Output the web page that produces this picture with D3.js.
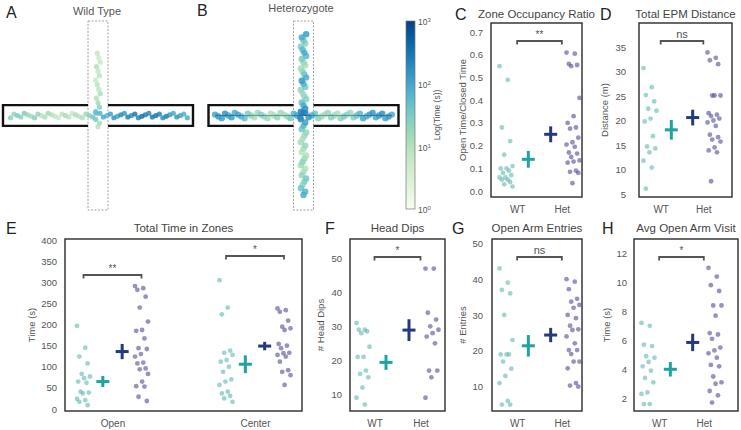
<!DOCTYPE html>
<html>
<head>
<meta charset="utf-8">
<script src="https://cdn.jsdelivr.net/npm/d3@7"></script>
<style>
  body { margin: 0; background: #fff; }
  svg { display: block; font-family: "Liberation Sans", Arial, sans-serif; }
</style>
</head>
<body>
<svg id="fig" width="741" height="430"></svg>
<script>
// ---------- data ----------
const groups = ["WT", "Het"];

// occupancy along the maze arms, seconds spent per spot (centre -> arm end)
const wtWestArm  = [45, 35, 25, 15, 10, 8, 12, 6, 9, 14, 8, 5, 7, 10, 16, 12, 8, 20, 25, 15, 18, 28, 22, 30, 20, 25];
const wtEastArm  = [70, 90, 60, 110, 140, 100, 180, 120, 220, 160, 280, 200, 320, 240, 180, 260, 300, 200, 160, 240, 120, 90, 140, 100, 70, 80];
const wtNorthArm = [50, 25, 14, 10, 12, 8, 9, 6, 8, 7, 10, 6, 5, 7];
const wtSouthArm = [35, 14, 9];
const hetWestArm  = [220, 160, 100, 60, 30, 18, 12, 15, 20, 12, 10, 14, 18, 25, 15, 12, 20, 30, 45, 70, 100, 80, 120, 90, 150, 110, 130, 100];
const hetEastArm  = [200, 140, 80, 40, 22, 15, 12, 18, 25, 15, 12, 20, 30, 22, 15, 25, 40, 60, 90, 70, 110, 140, 90, 120, 150, 100, 130, 80];
const hetNorthArm = [250, 160, 90, 45, 25, 18, 14, 20, 35, 70, 130, 80, 40, 20, 14, 12, 18, 30, 55, 90, 60, 30, 20, 40, 90, 120];
const hetSouthArm = [180, 110, 60, 35, 20, 14, 10, 13, 18, 12, 9, 11, 15, 22, 14, 10, 12, 20, 35, 25, 18, 40, 70, 90];
const heatTicks = [1, 10, 100, 1000];

// C  zone occupancy ratio
const ratioWT  = [0.55, 0.49, 0.28, 0.22, 0.16, 0.11, 0.10, 0.10, 0.09, 0.08, 0.07, 0.06, 0.06, 0.05, 0.05, 0.04, 0.03, 0.02];
const ratioHet = [0.61, 0.605, 0.56, 0.555, 0.55, 0.41, 0.33, 0.30, 0.28, 0.275, 0.235, 0.215, 0.205, 0.195, 0.17, 0.165, 0.15, 0.135, 0.13, 0.125, 0.09, 0.085, 0.08, 0.035];
const ratioMean = [0.14, 0.25];
const ratioSem  = [0.037, 0.035];
const ratioTicks = [0, 0.1, 0.2, 0.3, 0.4, 0.5, 0.6, 0.7];

// D  total distance (m)
const distWT  = [30.7, 26.8, 25.2, 23.9, 22.4, 22.0, 20.4, 19.8, 16.8, 14.7, 14.3, 13.5, 11.8, 10.4, 6.1];
const distHet = [33.9, 32.8, 32.3, 31.5, 25.1, 25.1, 25.1, 21.5, 21.2, 20.9, 20.4, 20.0, 19.6, 18.9, 17.1, 16.6, 16.1, 15.7, 14.5, 13.9, 13.5, 7.6];
const distMean = [18.1, 20.6];
const distSem  = [2.0, 1.6];
const distTicks = [5, 10, 15, 20, 25, 30, 35];

// E  total time in zones (s)
const zoneCats = ["Open", "Center"];
const openWT    = [197, 145, 124, 108, 83, 77, 73, 65, 62, 41, 39, 37, 24, 21, 17, 9];
const openHet   = [291, 286, 282, 266, 240, 207, 187, 185, 167, 144, 142, 130, 124, 110, 108, 96, 94, 83, 65, 54, 53, 29, 19];
const centerWT  = [305, 240, 224, 138, 133, 128, 116, 112, 100, 88, 70, 65, 57, 41, 37, 31, 25, 17];
const centerHet = [238, 234, 230, 209, 195, 191, 187, 154, 150, 144, 133, 132, 128, 124, 112, 92, 88, 80, 57];
const zoneMeanWT  = [65, 106];
const zoneMeanHet = [136, 149];
const zoneSemWT   = [13, 21];
const zoneSemHet  = [18, 10];
const zoneTicks = [0, 50, 100, 150, 200, 250, 300, 350, 400];

// F  head dips
const dipsWT  = [31, 29, 29, 28.5, 28, 24, 21, 21, 17, 16, 15, 12, 9, 7];
const dipsHet = [47, 47, 34, 32, 30, 29, 28, 27, 25, 17, 17, 15, 9];
const dipsMean = [19.4, 28.9];
const dipsSem  = [2.2, 3.2];
const dipsTicks = [10, 20, 30, 40, 50];

// G  open arm entries
const entriesWT  = [43, 39, 37, 36, 30, 23, 19, 19, 19, 17, 15, 13, 11, 6, 5, 5];
const entriesHet = [40, 39.3, 37.2, 34.5, 33.7, 32.8, 32, 30, 29.1, 27, 26, 25.8, 24, 22.1, 20.2, 20.2, 19.1, 17, 17, 15.1, 11, 10.3, 10];
const entriesMean = [21.4, 24.4];
const entriesSem  = [3.0, 2.0];
const entriesTicks = [10, 20, 30, 40, 50];

// H  avg open arm visit (s)
const visitWT  = [7.2, 7.0, 5.7, 5.6, 4.9, 4.8, 4.5, 4.2, 3.9, 3.4, 3.1, 2.4, 2.3, 1.6, 1.6];
const visitHet = [11.0, 10.4, 9.8, 9.4, 8.4, 8.4, 7.7, 6.5, 6.4, 6.1, 5.5, 5.3, 5.1, 4.8, 4.3, 4.2, 3.5, 3.1, 3.0, 2.5, 2.2, 1.7];
const visitMean = [4.0, 5.85];
const visitSem  = [0.5, 0.6];
const visitTicks = [2, 4, 6, 8, 10, 12];

// ---------- drawing ----------
const svg = d3.select('#fig');
const GRAY = '#555';
const WT_DOT = '#5bb5ae', HET_DOT = '#4a4592';
const WT_MEAN = '#1fa39f', HET_MEAN = '#233b7e';

const heatColor = d3.scaleSequentialLog(d3.interpolateGnBu).domain([1, 1000]);

function label(x, y, txt, size, fill, anchor) {
  return svg.append('text').attr('x', x).attr('y', y)
    .attr('dy', '0.35em')
    .attr('text-anchor', anchor || 'middle')
    .attr('font-size', size + 'px')
    .attr('fill', fill)
    .text(txt);
}

// wobble across the arm so the track isn't a straight row
function wobble(i) { return ((i * 5) % 7) / 6 - 0.5; }

function drawMaze(cx, cy, arms, r, spread, trail) {
  const mx = d3.scaleLinear().domain([-50, 50]).range([cx - 95, cx + 95]);
  const my = d3.scaleLinear().domain([-50, 50]).range([cy - 94.5, cy + 94.5]);
  const hwOpen = 5.25, hwClosed = 5.5;

  svg.append('rect')
    .attr('x', mx(-hwOpen)).attr('y', my(-50))
    .attr('width', mx(hwOpen) - mx(-hwOpen)).attr('height', my(50) - my(-50))
    .attr('fill', 'none').attr('stroke', '#888')
    .attr('stroke-width', 0.8).attr('stroke-dasharray', '2,1.5');

  const p = d3.path();
  p.moveTo(mx(-hwOpen), my(-hwClosed)); p.lineTo(mx(-50), my(-hwClosed));
  p.lineTo(mx(-50), my(hwClosed)); p.lineTo(mx(-hwOpen), my(hwClosed));
  p.moveTo(mx(hwOpen), my(-hwClosed)); p.lineTo(mx(50), my(-hwClosed));
  p.lineTo(mx(50), my(hwClosed)); p.lineTo(mx(hwOpen), my(hwClosed));
  svg.append('path').attr('d', p.toString())
    .attr('fill', 'none').attr('stroke', '#111').attr('stroke-width', 2.4);

  const pts = [];
  const trailPts = [];
  arms.forEach(arm => {
    const along = d3.scaleLinear().domain([0, arm.vals.length - 1]).range([arm.from, arm.to]);
    arm.vals.forEach((v, i) => {
      const t = along(i);
      const off = wobble(i) * spread;
      const px = arm.dir[0] * t + (arm.dir[1] !== 0 ? off : 0);
      const py = arm.dir[1] * t + (arm.dir[0] !== 0 ? off : 0);
      pts.push({ x: mx(px), y: my(py), v: v });
      if (arm.dir[1] === 0) trailPts.push([mx(arm.dir[0] * t), my(0)]);
    });
  });
  pts.sort((a, b) => a.v - b.v);

  svg.append('g').selectAll('circle').data(pts).join('circle')
    .attr('cx', d => d.x).attr('cy', d => d.y).attr('r', r)
    .attr('fill', d => heatColor(d.v)).attr('fill-opacity', 0.85);

  if (trail) {
    trailPts.sort((a, b) => a[0] - b[0]);
    svg.append('path').attr('d', d3.line()(trailPts))
      .attr('fill', 'none').attr('stroke', '#0a3d7a')
      .attr('stroke-width', 0.8).attr('stroke-opacity', 0.55);
  }
}

// A / B
label(6, 12, 'A', 16, '#222', 'start');
label(97, 11, 'Wild Type', 11, GRAY);
label(197, 10, 'B', 16, '#222', 'start');
label(301, 8, 'Heterozygote', 11, GRAY);

drawMaze(98, 115.5, [
  { vals: wtWestArm,  dir: [-1, 0], from: 1, to: 46 },
  { vals: wtEastArm,  dir: [1, 0],  from: 1, to: 47 },
  { vals: wtNorthArm, dir: [0, -1], from: 2, to: 33 },
  { vals: wtSouthArm, dir: [0, 1],  from: 2, to: 6 }
], 2.6, 2.4, false);

drawMaze(303.5, 115.5, [
  { vals: hetWestArm,  dir: [-1, 0], from: 0, to: 46.5 },
  { vals: hetEastArm,  dir: [1, 0],  from: 1, to: 46.5 },
  { vals: hetNorthArm, dir: [0, -1], from: 2, to: 43 },
  { vals: hetSouthArm, dir: [0, 1],  from: 2, to: 42 }
], 3.2, 2.8, true);

// colour bar
const cb = { x: 406, w: 9, y0: 21, y1: 209 };
const grad = svg.append('defs').append('linearGradient')
  .attr('id', 'cbgrad').attr('x1', 0).attr('y1', 1).attr('x2', 0).attr('y2', 0);
d3.range(0, 1.001, 0.1).forEach(t => {
  grad.append('stop').attr('offset', t).attr('stop-color', d3.interpolateGnBu(t));
});
svg.append('rect').attr('x', cb.x).attr('y', cb.y0).attr('width', cb.w).attr('height', cb.y1 - cb.y0)
  .attr('fill', 'url(#cbgrad)').attr('stroke', '#777').attr('stroke-width', 0.7);
const cbScale = d3.scaleLog().domain([1, 1000]).range([cb.y1, cb.y0]);
const cbAxis = svg.append('g').attr('transform', `translate(${cb.x + cb.w},0)`)
  .call(d3.axisRight(cbScale).tickValues(heatTicks).tickSize(0).tickFormat(() => ''))
  .attr('font-family', null);
cbAxis.select('.domain').remove();
cbAxis.selectAll('.tick').append('text')
  .attr('x', 3).attr('dy', '0.45em').attr('fill', GRAY).attr('font-size', '8.5px')
  .attr('text-anchor', 'start')
  .each(function(d) {
    const t = d3.select(this);
    t.append('tspan').text('10');
    t.append('tspan').attr('dy', '-0.5em').attr('font-size', '6px').text(Math.round(Math.log10(d)));
  });
svg.append('text').attr('transform', 'translate(437,115) rotate(-90)')
  .attr('text-anchor', 'middle').attr('dy', '0.35em')
  .attr('font-size', '8.5px').attr('fill', GRAY).text('Log(Time (s))');

// ---------- strip panels ----------
function jit(i) { return ((i * 7) % 12) / 11 - 0.5; }

function stripPanel(o) {
  const f = o.frame;
  const y = d3.scaleLinear().domain(o.domain).range([f.y1, f.y0]);
  const xc = d3.scalePoint().domain(o.cats).range(o.xRange);
  const slot = d3.scaleLinear().domain([0, 3]).range([-o.half, o.half]);
  const g = svg.append('g');

  // frame
  g.append('rect').attr('x', f.x0).attr('y', f.y0)
    .attr('width', f.x1 - f.x0).attr('height', f.y1 - f.y0)
    .attr('fill', 'none').attr('stroke', '#2a2a2a').attr('stroke-width', 1.4);

  // y axis
  const ya = g.append('g').attr('transform', `translate(${f.x0},0)`)
    .call(d3.axisLeft(y).tickValues(o.ticks).tickSize(0).tickPadding(o.pad)
      .tickFormat(o.fmt || d3.format('d')))
    .attr('font-family', null);
  ya.select('.domain').remove();
  ya.selectAll('text').attr('fill', GRAY).attr('font-size', '9.5px');

  g.append('text')
    .attr('transform', `translate(${f.x0 - o.ylabOff},${(f.y0 + f.y1) / 2}) rotate(-90)`)
    .attr('text-anchor', 'middle').attr('dy', '0.35em')
    .attr('font-size', '9.5px').attr('fill', GRAY).text(o.ylab);

  // x axis
  let xa;
  if (o.cats.length > 1) {
    xa = g.append('g').attr('transform', `translate(0,${f.y1})`)
      .call(d3.axisBottom(xc).tickSize(0).tickPadding(8.5));
  } else {
    const c = xc(o.cats[0]);
    const xs = d3.scaleLinear().domain([0, 3]).range([c - o.half, c + o.half]);
    xa = g.append('g').attr('transform', `translate(0,${f.y1})`)
      .call(d3.axisBottom(xs).tickValues([0.5, 2.5]).tickSize(0).tickPadding(8.5)
        .tickFormat((d, i) => groups[i]));
  }
  xa.attr('font-family', null);
  xa.select('.domain').remove();
  xa.selectAll('text').attr('fill', GRAY).attr('font-size', '10px');

  // title + letter
  label((f.x0 + f.x1) / 2, o.titleY, o.title, 11.5, '#444');
  label(o.letterX, o.titleY, o.letter, 16, '#222', 'start');

  o.series.forEach((s, k) => {
    const c = xc(o.cats[k]);
    const sets = [
      { vals: s.wt,  x: c + slot(0), fill: WT_DOT },
      { vals: s.het, x: c + slot(3), fill: HET_DOT }
    ];
    sets.forEach(set => {
      g.append('g').selectAll('circle').data(set.vals).join('circle')
        .attr('cx', (d, i) => set.x + jit(i) * 13)
        .attr('cy', d => y(d))
        .attr('r', 2.4)
        .attr('fill', set.fill).attr('fill-opacity', 0.58);
    });

    [[1, WT_MEAN], [2, HET_MEAN]].forEach(([sl, col], j) => {
      const cx = c + slot(sl);
      const m = s.mean[j], e = s.sem[j];
      g.append('line').attr('x1', cx - 6.5).attr('x2', cx + 6.5)
        .attr('y1', y(m)).attr('y2', y(m))
        .attr('stroke', col).attr('stroke-width', 3);
      g.append('line').attr('x1', cx).attr('x2', cx)
        .attr('y1', y(m - e)).attr('y2', y(m + e))
        .attr('stroke', col).attr('stroke-width', 3);
    });

    // significance bracket
    const bx0 = c + slot(s.b[0]), bx1 = c + slot(s.b[1]);
    const by = f.y0 + s.by;
    g.append('path')
      .attr('d', `M${bx0},${by + 3.5}V${by}H${bx1}V${by + 3.5}`)
      .attr('fill', 'none').attr('stroke', GRAY).attr('stroke-width', 1.8);
    g.append('text').attr('x', (bx0 + bx1) / 2).attr('y', by - 3.5)
      .attr('text-anchor', 'middle').attr('font-size', s.sig === 'ns' ? '11px' : '10px')
      .attr('fill', GRAY).text(s.sig);
  });
}

const panels = [
  { letter: 'C', letterX: 455, title: 'Zone Occupancy Ratio', titleY: 14, ylab: 'Open Time/Closed Time',
    frame: { x0: 491, y0: 23, x1: 582, y1: 197 }, domain: [-0.026, 0.74], ticks: ratioTicks,
    fmt: d3.format('.1f'), pad: 8, ylabOff: 28, cats: ['r'], xRange: [539.5, 539.5], half: 33.5,
    series: [{ wt: ratioWT, het: ratioHet, mean: ratioMean, sem: ratioSem, sig: '**', by: 18, b: [0.5, 2.5] }] },
  { letter: 'D', letterX: 600, title: 'Total EPM Distance', titleY: 14, ylab: 'Distance (m)',
    frame: { x0: 639, y0: 23, x1: 732, y1: 197 }, domain: [4.39, 39.9], ticks: distTicks,
    pad: 13, ylabOff: 34, cats: ['d'], xRange: [682, 682], half: 32,
    series: [{ wt: distWT, het: distHet, mean: distMean, sem: distSem, sig: 'ns', by: 18, b: [0.5, 2.5] }] },
  { letter: 'E', letterX: 6, title: 'Total Time in Zones', titleY: 228, ylab: 'Time (s)',
    frame: { x0: 65, y0: 239, x1: 302, y1: 411 }, domain: [-4.7, 402.4], ticks: zoneTicks,
    pad: 8, ylabOff: 33, cats: zoneCats, xRange: [112.5, 255], half: 29,
    series: [
      { wt: openWT, het: openHet, mean: [zoneMeanWT[0], zoneMeanHet[0]], sem: [zoneSemWT[0], zoneSemHet[0]], sig: '**', by: 36, b: [0, 3] },
      { wt: centerWT, het: centerHet, mean: [zoneMeanWT[1], zoneMeanHet[1]], sem: [zoneSemWT[1], zoneSemHet[1]], sig: '*', by: 17, b: [0, 3] }
    ] },
  { letter: 'F', letterX: 325, title: 'Head Dips', titleY: 228, ylab: '# Head Dips',
    frame: { x0: 350, y0: 239, x1: 445, y1: 411 }, domain: [5.1, 55.7], ticks: dipsTicks,
    pad: 8, ylabOff: 29, cats: ['f'], xRange: [397.5, 397.5], half: 34.5,
    series: [{ wt: dipsWT, het: dipsHet, mean: dipsMean, sem: dipsSem, sig: '*', by: 18, b: [0.5, 2.5] }] },
  { letter: 'G', letterX: 452, title: 'Open Arm Entries', titleY: 228, ylab: '# Entries',
    frame: { x0: 492, y0: 239, x1: 582, y1: 411 }, domain: [3.2, 51.2], ticks: entriesTicks,
    pad: 9, ylabOff: 29, cats: ['g'], xRange: [539.5, 539.5], half: 33.5,
    series: [{ wt: entriesWT, het: entriesHet, mean: entriesMean, sem: entriesSem, sig: 'ns', by: 18, b: [0.5, 2.5] }] },
  { letter: 'H', letterX: 602, title: 'Avg Open Arm Visit', titleY: 228, ylab: 'Time (s)',
    frame: { x0: 634, y0: 239, x1: 738, y1: 411 }, domain: [1.12, 12.99], ticks: visitTicks,
    pad: 7, ylabOff: 27, cats: ['h'], xRange: [681.5, 681.5], half: 33.5,
    series: [{ wt: visitWT, het: visitHet, mean: visitMean, sem: visitSem, sig: '*', by: 18, b: [0.5, 2.5] }] }
];

panels.forEach(stripPanel);
</script>
</body>
</html>
